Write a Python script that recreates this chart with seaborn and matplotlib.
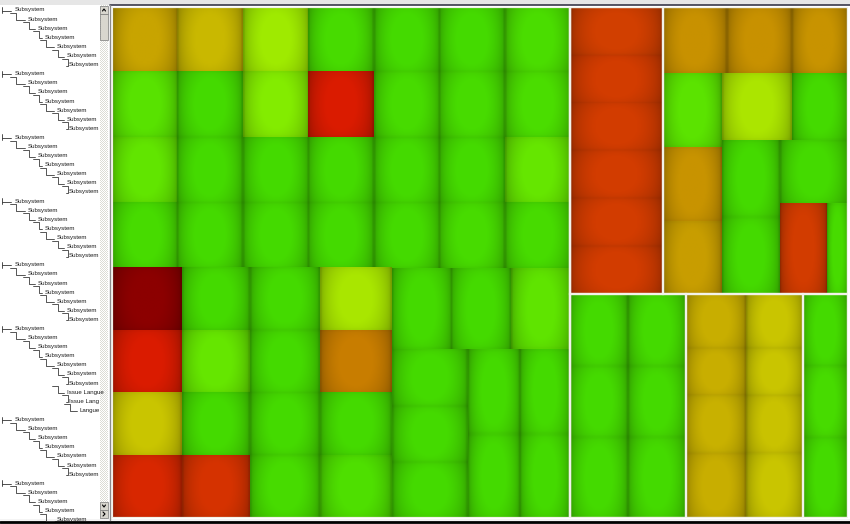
import numpy as np
import matplotlib
matplotlib.use("Agg")
import matplotlib.pyplot as plt
from matplotlib.patches import Rectangle
import seaborn as sns

sns.set_style("white")
plt.rcParams['font.family'] = ['Liberation Sans', 'DejaVu Sans']

# ---------------- data ----------------
# health score per cell: 0 = fine (green) ... 1 = critical (dark red)
# upper-left grid, 7 columns, each listed top -> bottom
ul_cols = [
    [0.60, 0.13, 0.16, 0.06],
    [0.54, 0.05, 0.05, 0.05],
    [0.33, 0.25, 0.05, 0.05],
    [0.06, 0.90, 0.05, 0.05],
    [0.05, 0.06, 0.05, 0.05],
    [0.05, 0.06, 0.05, 0.06],
    [0.08, 0.08, 0.17, 0.06],
]
# lower-left strip columns
ll_sizes = [70, 68, 70, 72, 178]
ll_cols = [
    [1.00, 0.90, 0.50, 0.87],
    [0.05, 0.17, 0.05, 0.84],
    [0.05, 0.05, 0.05, 0.06],
    [0.36, 0.71, 0.05, 0.10],
]
ll_rest_top = [0.05, 0.05, 0.15]
ll_rest_sizes = [76, 52, 50]
ll_rest_cols = [[0.05, 0.05, 0.05], [0.05, 0.05], [0.05, 0.05]]
ll_rest_heights = [[57, 56, 56], [85, 84], [85, 84]]

# right block, upper part
red_strip = [0.81, 0.82, 0.82, 0.82, 0.82, 0.82]
ru_top = [0.66, 0.66, 0.65]
ru_top_sizes = [64, 65, 56]
ru_side = [0.14, 0.65, 0.62]
ru_mid = [0.37, 0.05]
ru_low_a = [0.05, 0.05]
ru_low_b_top = 0.05
ru_low_b_split = [0.82, 0.06]

# right block, lower part
rl_g1 = [[0.05, 0.05, 0.05], [0.05, 0.05, 0.05]]
rl_g1_heights = [72, 71, 81]
rl_g2 = [[0.57, 0.57, 0.56, 0.57], [0.50, 0.50, 0.51, 0.50]]
rl_g2_heights = [54, 47, 58, 65]
rl_g3 = [0.05, 0.06, 0.05]

# tree panel labels
tree_depth = ([0, 1, 2, 3, 4, 5, 6] * 6 + [5, 6, 7] +
              [0, 1, 2, 3, 4, 5, 6] + [0, 1, 2, 3, 4])
tree_label = (['Subsystem'] * 42 + ['Issue Langue', 'Issue Lang', 'Langue'] +
              ['Subsystem'] * 12)

score_colors = ['#3cd600', '#4fe000', '#70ea00', '#96ee00', '#b6e200',
                '#cac600', '#c8a400', '#c88400', '#d04400', '#dc1c00', '#8c0000']
cmap = sns.blend_palette(score_colors, as_cmap=True)


# ---------------- layout helpers ----------------
def col(vals, sizes=None, frame=False):
    return ('v', sizes or [1] * len(vals), vals, frame)


def row(vals, sizes=None, frame=False):
    return ('h', sizes or [1] * len(vals), vals, frame)


upper_left = row([col(c) for c in ul_cols])
lower_left = row([col(c) for c in ll_cols] + [
    col([row(ll_rest_top),
         row([col(c, h) for c, h in zip(ll_rest_cols, ll_rest_heights)], ll_rest_sizes)],
        [81, 169])], ll_sizes)
left_block = col([upper_left, lower_left], [261, 250], frame=True)

right_sub = col([
    row(ru_top, ru_top_sizes),
    row([col(ru_side, [74, 74, 73]),
         col([row(ru_mid, [70, 56]),
              row([col(ru_low_a),
                   col([ru_low_b_top, row(ru_low_b_split, [47, 21])], [63, 91])],
                  [58, 68])],
             [67, 154])],
        [59, 126])], [66, 221], frame=True)
right_upper = row([col(red_strip, frame=True), right_sub], [93, 185])
right_lower = row([
    row([col(c, rl_g1_heights) for c in rl_g1], frame=True),
    row([col(c, rl_g2_heights) for c in rl_g2], [60, 57], frame=True),
    col(rl_g3, rl_g1_heights, frame=True)], [116, 117, 45])
right_block = col([right_upper, right_lower], [287, 224], frame=True)

root = row([left_block, right_block], [458, 278])

W, H = 736.0, 511.0
leaves, frames = [], []


def layout(node, x0, y0, x1, y1):
    if not isinstance(node, tuple):
        leaves.append((x0, y0, x1, y1, node))
        return
    kind, sizes, kids, frame = node
    tot = float(sum(sizes))
    pos = x0 if kind == 'h' else y0
    for s, k in zip(sizes, kids):
        if kind == 'h':
            w = (x1 - x0) * s / tot
            layout(k, pos, y0, pos + w, y1)
        else:
            w = (y1 - y0) * s / tot
            layout(k, x0, pos, x1, pos + w)
        pos += w
    if frame:
        frames.append((x0, y0, x1, y1))


layout(root, 0, 0, W, H)

# cushion shading
u = np.linspace(0, 1, 40)
sx = 0.70 + 0.34 * np.sin(np.pi * u) ** 0.45
sy = 0.90 + 0.10 * np.sin(np.pi * u) ** 0.5
shade = np.clip(np.outer(sy, sx), 0, 1.0)

# ---------------- figure ----------------
fig = plt.figure(figsize=(8.5, 5.24), dpi=100)
fig.patch.set_facecolor('white')

bg = fig.add_axes([0, 0, 1, 1])
bg.set_xlim(0, 850)
bg.set_ylim(524, 0)
bg.axis('off')
bg.add_patch(Rectangle((0, 0), 850, 5, color='#e6e6e6', lw=0))
bg.plot([110, 850], [5, 5], color='#3a3a4a', lw=1.2)
bg.add_patch(Rectangle((0, 519), 850, 5, color='#f4f4f4', lw=0))
bg.plot([0, 850], [521.5, 521.5], color='black', lw=2)
bg.plot([110, 110], [5, 520], color='#8a8a8a', lw=1)

# scrollbar
checker = np.indices((514, 8)).sum(axis=0) % 2
bg.imshow(checker, cmap=sns.blend_palette(['#ffffff', '#dcdcd4'], as_cmap=True),
          extent=(100, 108, 519, 5), aspect='auto', interpolation='nearest', zorder=1)
for y0, y1 in [(6, 14), (14, 40), (502, 510), (510, 518)]:
    bg.add_patch(Rectangle((100, y0), 8, y1 - y0, facecolor='#d8d6ce',
                           edgecolor='#7a7a7a', lw=0.5, zorder=2))
bg.plot([102.5, 104, 105.5], [11, 9, 11], color='black', lw=0.8, zorder=3)
bg.plot([102.5, 104, 105.5], [505, 507, 505], color='black', lw=0.8, zorder=3)
bg.plot([103, 105, 103], [512, 514, 516], color='black', lw=0.8, zorder=3)

# tree labels and connectors
indent = [15, 28, 38, 45, 57, 67, 69, 80]
step = 9.1
for i, (d, lab) in enumerate(zip(tree_depth, tree_label)):
    y = 10 + step * i
    x = indent[d]
    bg.text(x, y, lab, fontsize=4.4, color='#1a1a1a', va='center', ha='left')
    if d == 0:
        bg.plot([2, 11], [y + 0.5, y + 0.5], color='#333333', lw=0.6)
        bg.plot([2, 2], [y - 3, y + 3], color='#333333', lw=0.6)
    else:
        px = indent[d - 1]
        bg.plot([px - 5, px + 1, px + 1, x - 3],
                [y - 6, y - 6, y + 1, y + 1], color='#3a3a3a', lw=0.6)

# treemap
ax = fig.add_axes([112 / 850, (524 - 518) / 524, W / 850, H / 524])
for x0, y0, x1, y1, v in leaves:
    base = np.array(cmap(v)[:3])
    img = shade[:, :, None] * base[None, None, :]
    ax.imshow(img, extent=(x0, x1, y1, y0), aspect='auto', interpolation='bilinear')
for x0, y0, x1, y1 in frames:
    ax.add_patch(Rectangle((x0, y0), x1 - x0, y1 - y0, fill=False,
                           edgecolor='#f2f2ea', lw=1.6))
ax.set_xlim(0, W)
ax.set_ylim(H, 0)
ax.axis('off')

fig.savefig('out.png', dpi=100)
